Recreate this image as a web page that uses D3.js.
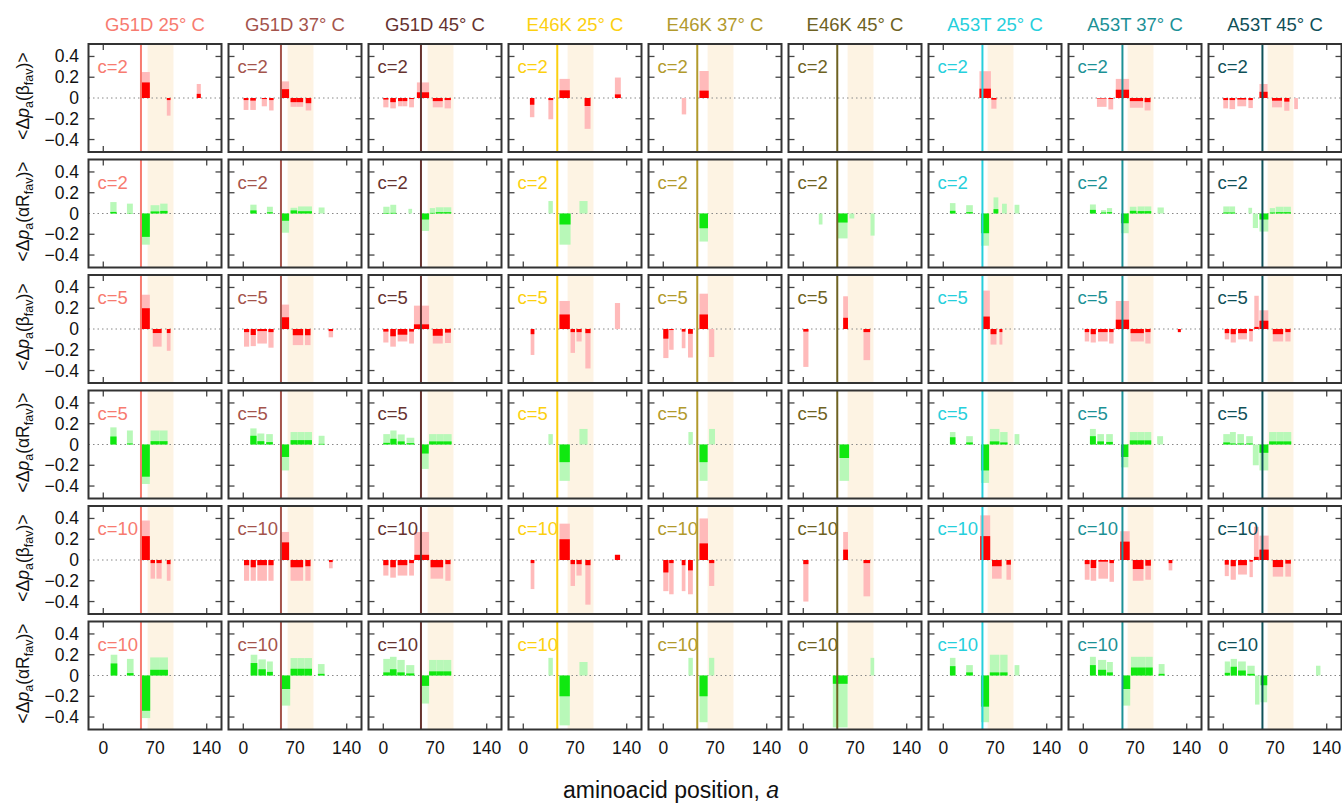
<!DOCTYPE html>
<html>
<head>
<meta charset="utf-8">
<script src="https://cdn.jsdelivr.net/npm/d3@7"></script>
<style>
  body { margin: 0; background: #fff; }
  svg text { font-family: "Liberation Sans", Arial, Helvetica, sans-serif; }
</style>
</head>
<body>
<svg id="chart" width="1342" height="803"></svg>
<script>
// column headers
const mutations = ["G51D", "G51D", "G51D", "E46K", "E46K", "E46K", "A53T", "A53T", "A53T"];
const temps = [25, 37, 45, 25, 37, 45, 25, 37, 45];
const mutPos = [51, 51, 51, 46, 46, 46, 53, 53, 53];
const colColors = ["#f77b70", "#a4544c", "#663330", "#fcd010", "#b29a2c", "#6e6222", "#26cfdc", "#1c9196", "#0f5058"];

// rows
const rowC = [2, 2, 5, 5, 10, 10];
const rowKind = ["β", "αR", "β", "αR", "β", "αR"];

const xTicks = [0, 70, 140];
const yTicks = [0.4, 0.2, 0, -0.2, -0.4];
const nacRegion = [60, 95];

// bars per panel: [start, end, mean (dark), spread (light)]
const betaC2 = [
  [[51,63,0.15,0.25],[86,91,-0.02,-0.17],[126.5,132,0.04,0.135]],
  [[0.5,7,-0.02,-0.115],[9.5,17,-0.025,-0.115],[25,32,-0.01,-0.08],[35,41,-0.02,-0.12],[51,62,0.085,0.16],[64,72.5,-0.04,-0.085],[72.5,81,-0.04,-0.085],[84.5,92,-0.05,-0.12]],
  [[0,7,-0.015,-0.09],[9.5,17,-0.04,-0.10],[20,26,-0.03,-0.08],[26,32.5,-0.03,-0.08],[35,41.5,-0.01,-0.09],[45.5,62,0.055,0.15],[67,80.5,-0.03,-0.09],[83,91.5,-0.02,-0.10]],
  [[9,15,-0.065,-0.185],[34,40.5,-0.02,-0.205],[49,63,0.074,0.184],[83,91,-0.077,-0.297],[124,132,0.035,0.197]],
  [[25,31,0,-0.158],[49,61.5,0.071,0.26]],
  [],
  [[49,64.5,0.09,0.258],[65,72,-0.016,-0.103]],
  [[18.5,31.5,-0.005,-0.085],[34,40.5,-0.01,-0.11],[44,62,0.08,0.184],[63,81,-0.03,-0.094],[83,91,-0.04,-0.12]],
  [[0,6.5,-0.02,-0.10],[8.5,16,-0.02,-0.107],[19,31,-0.015,-0.08],[34,40,-0.02,-0.097],[49,60,0.06,0.135],[66,79.5,-0.026,-0.09],[82.5,89.5,-0.035,-0.123],[96,101,0,-0.107]]
];
const alphaC2 = [
  [[9.5,18,0.015,0.11],[32,40,0.003,0.095],[51,63,-0.225,-0.30],[64,76,0.02,0.08],[77,87,0.025,0.095]],
  [[9.5,18,0.03,0.085],[32,40,0.012,0.065],[51,62,-0.07,-0.185],[64,73,0.03,0.055],[74,83.5,0.022,0.068],[83.5,93,0.022,0.068],[102,110,0,0.058]],
  [[0,8.5,0.005,0.065],[9.5,17.5,0.006,0.084],[34,39,0,0.045],[51,62,-0.058,-0.168],[63,70,0.006,0.052],[71,81.5,0.013,0.06],[81.5,92,0.013,0.06]],
  [[34,40,0,0.12],[49,64,-0.106,-0.30],[76,87,0,0.12]],
  [[49,60.5,-0.142,-0.27]],
  [[21,26,0,-0.106],[46.5,60,-0.087,-0.24],[62.5,69,0,-0.048],[91,96.5,0,-0.213]],
  [[9,16.5,0.026,0.10],[31,40,0.013,0.08],[51,62,-0.19,-0.31],[68,74.5,0.042,0.155],[79.5,86,0,0.094],[96.5,103,0,0.084]],
  [[9,17,0.035,0.087],[24,31,0.01,0.032],[32,39,0.013,0.052],[51,61.5,-0.094,-0.19],[63,72,0.026,0.065],[73.5,83,0.023,0.068],[83,92,0.023,0.068],[100.5,109,0,0.058]],
  [[0,8,0.01,0.068],[8,16,0.01,0.068],[34,39,0,0.055],[40,47,0,-0.14],[49,61,-0.058,-0.174],[63,70,0.01,0.052],[71,81.5,0.013,0.065],[81.5,91.5,0.013,0.065]]
];
const betaC5 = [
  [[51,63,0.20,0.33],[67,79,-0.039,-0.17],[86,91,-0.039,-0.21]],
  [[1,8,-0.03,-0.17],[10,17,-0.058,-0.165],[19,32,-0.02,-0.14],[34,41,-0.03,-0.18],[51,62,0.113,0.235],[67,81,-0.06,-0.155],[83.5,91,-0.06,-0.155],[115.5,121.5,-0.02,-0.08]],
  [[0,7,-0.025,-0.13],[9.5,17,-0.07,-0.17],[19.5,32.5,-0.055,-0.12],[35,41.5,-0.025,-0.14],[41.5,62,0.045,0.225],[67,80.5,-0.065,-0.14],[83.5,91.5,-0.035,-0.135]],
  [[10,15,-0.05,-0.25],[49,63,0.14,0.27],[64,70,-0.03,-0.23],[72,79,-0.03,-0.12],[84,91,-0.04,-0.38],[124,131,0,0.25]],
  [[0,7,-0.093,-0.28],[8,14,-0.01,-0.2],[25,30,-0.025,-0.185],[33.5,40,-0.046,-0.275],[49,60.5,0.14,0.34],[62,69,0,-0.27]],
  [[0,7,-0.025,-0.365],[54,60.5,0.108,0.315],[81.5,90.5,-0.03,-0.30]],
  [[53,63,0.12,0.37],[64,72,-0.05,-0.15],[76,80,-0.03,-0.15]],
  [[2,8,-0.03,-0.12],[10,17,-0.05,-0.13],[20,33,-0.03,-0.12],[35,41,-0.03,-0.14],[44,62,0.09,0.27],[64,82,-0.04,-0.12],[84,91,-0.03,-0.14],[128,132,-0.03,-0.03]],
  [[2,8,-0.04,-0.1],[10,17,-0.05,-0.13],[20,32,-0.04,-0.1],[35,40,-0.02,-0.12],[42,48,0.02,0.32],[49,61,0.08,0.18],[67,81,-0.05,-0.12],[84,91,-0.03,-0.12]]
];
const alphaC5 = [
  [[9.5,18,0.077,0.165],[32,40,0.01,0.135],[51,63,-0.31,-0.38],[64,76,0.032,0.135],[76,87,0.032,0.135]],
  [[9.5,18,0.084,0.155],[19,28.5,0.032,0.106],[31,40,0.023,0.10],[51,62,-0.12,-0.25],[64,73.5,0.042,0.12],[73.5,83,0.042,0.12],[83,93,0.042,0.12],[102,110,0.006,0.084]],
  [[0,9,0.016,0.10],[9.5,18,0.055,0.135],[19.5,29,0.03,0.097],[31.5,42,0.013,0.065],[51,61.5,-0.087,-0.235],[62,72,0.03,0.10],[72,82,0.03,0.10],[82,92.5,0.03,0.10]],
  [[34,40,0,0.1],[49,63,-0.17,-0.35],[76,87,0,0.15]],
  [[34,40,0,0.12],[49,60,-0.17,-0.35],[62,70,0,0.15]],
  [[49,62,-0.13,-0.35]],
  [[9,16.5,0.07,0.12],[31,40,0.02,0.08],[51,62,-0.25,-0.37],[63,76,0.03,0.15],[77,87,0.02,0.12],[96.5,103,0,0.1]],
  [[9,17,0.08,0.15],[19,28,0.03,0.1],[31,40,0.025,0.1],[51,61,-0.12,-0.22],[63,73,0.04,0.12],[73,83,0.04,0.12],[83,92,0.04,0.12],[100,108,0,0.08]],
  [[0,9,0.02,0.1],[9,17,0.01,0.12],[19,28,0.01,0.1],[31,40,0.01,0.08],[40,48,0,-0.2],[49,61,-0.08,-0.25],[62,72,0.03,0.12],[72,82,0.03,0.12],[82,92,0.03,0.12]]
];
const betaC10 = [
  [[51,63,0.23,0.38],[64,70,-0.03,-0.18],[72,79,-0.03,-0.18],[86,91,-0.04,-0.2]],
  [[1,8,-0.05,-0.2],[10,17,-0.07,-0.2],[19,32,-0.05,-0.2],[34,41,-0.05,-0.2],[51,62,0.17,0.27],[64,81,-0.07,-0.2],[84,91,-0.06,-0.2],[116,121,-0.02,-0.08]],
  [[0,7,-0.05,-0.15],[9.5,17,-0.07,-0.17],[19.5,32.5,-0.05,-0.15],[35,41.5,-0.03,-0.15],[42,62,0.05,0.27],[64,81,-0.07,-0.18],[84,91,-0.04,-0.2]],
  [[10,15,-0.03,-0.28],[49,63,0.2,0.35],[64,70,-0.04,-0.25],[72,79,-0.04,-0.15],[84,91,-0.05,-0.43],[124,131,0.05,0.05]],
  [[0,7,-0.12,-0.3],[8,14,-0.03,-0.33],[25,30,-0.05,-0.3],[33.5,40,-0.1,-0.33],[49,60.5,0.16,0.4],[62,69,-0.03,-0.25]],
  [[0,7,-0.04,-0.4],[54,60.5,0.1,0.27],[81.5,90.5,-0.03,-0.35]],
  [[50,63.5,0.23,0.43],[66,79,-0.06,-0.18],[85.5,91.5,-0.045,-0.19]],
  [[2,8.5,-0.04,-0.19],[10,17.5,-0.077,-0.2],[20.5,33.5,-0.016,-0.18],[35.5,41.5,-0.03,-0.21],[50,62.8,0.177,0.277],[67,81.5,-0.087,-0.2],[84,91.5,-0.055,-0.19],[115.5,120.5,-0.03,-0.10]],
  [[2,7.5,-0.045,-0.155],[10,17,-0.06,-0.19],[20,32,-0.05,-0.14],[35.5,40,-0.016,-0.165],[41.5,48,0.03,0.32],[49,61.5,0.10,0.235],[67,81,-0.068,-0.16],[84,91.5,-0.035,-0.16]]
];
const alphaC10 = [
  [[10,19,0.116,0.2],[32,41,0.023,0.16],[52,63.5,-0.34,-0.41],[63.5,75.5,0.055,0.174],[75.5,87.5,0.055,0.174]],
  [[10,19,0.12,0.2],[20.5,30.5,0.06,0.155],[32,40,0.035,0.135],[52,63.5,-0.13,-0.29],[64,73.5,0.065,0.168],[73.5,83,0.065,0.168],[83,93,0.065,0.168],[101,110,0.016,0.11]],
  [[0,9,0.03,0.16],[9,18,0.06,0.18],[19,29,0.03,0.15],[31,42,0.02,0.1],[51,62,-0.1,-0.27],[62,72,0.04,0.15],[72,82,0.04,0.15],[82,92,0.04,0.15]],
  [[34,40,0,0.17],[49,63,-0.2,-0.48],[76,87,0,0.13]],
  [[34,40,0,0.17],[49,60,-0.2,-0.45],[62,69,0,0.17]],
  [[40,60,-0.08,-0.5],[91,96,0,0.17]],
  [[9,16.5,0.09,0.17],[31,40,0.03,0.1],[51,62,-0.3,-0.45],[63,76,0.03,0.2],[77,87,0.03,0.2],[96.5,103,0,0.1]],
  [[9,17,0.1,0.18],[20,31,0.055,0.15],[32,40,0.03,0.13],[53,63.5,-0.13,-0.29],[64.5,74,0.077,0.18],[74,84,0.077,0.18],[84,94,0.077,0.18],[102,110,0.016,0.11]],
  [[2,9,0.026,0.135],[10,18.5,0.084,0.16],[20,30.5,0.048,0.135],[32.5,42.5,0.016,0.094],[43,49,0,-0.28],[50.5,59.5,-0.094,-0.258],[125.5,131.5,0,0.094]]
];
const rowBars = [betaC2, alphaC2, betaC5, alphaC5, betaC10, alphaC10];

const barColors = {
  "β": {light: "#ffbaba", dark: "#ff0000"},
  "αR": {light: "#b8f8b8", dark: "#10e810"}
};

// layout
const left0 = 88.5, colStep = 140, pw = 133;
const top0 = 44, rowStep = 115.5, ph = 108;

const svg = d3.select("#chart");

const x = d3.scaleLinear().domain([-20, 160]).range([0, pw]);
const y = d3.scaleLinear().domain([-0.52, 0.52]).range([ph, 0]);

// column titles
svg.selectAll("text.coltitle")
  .data(mutations)
  .join("text")
  .attr("class", "coltitle")
  .attr("x", (d, i) => left0 + i * colStep + pw / 2)
  .attr("y", 31)
  .attr("text-anchor", "middle")
  .style("font-size", "18.5px")
  .style("fill", (d, i) => colColors[i])
  .text((d, i) => `${d} ${temps[i]}° C`);

rowBars.forEach(function(rowData, r) {
  const kind = rowKind[r];
  const ty = top0 + r * rowStep;

  // y axis label
  const lab = svg.append("text")
    .attr("transform", `translate(29, ${ty + ph / 2 - 2}) rotate(-90)`)
    .attr("text-anchor", "middle")
    .style("font-size", "17.5px")
    .style("fill", "#111");
  lab.append("tspan").text("<Δ");
  lab.append("tspan").style("font-style", "italic").text("p");
  lab.append("tspan").attr("dy", 4).style("font-size", "12.5px").text("a");
  lab.append("tspan").attr("dy", -4).text("(" + kind);
  lab.append("tspan").attr("dy", 4).style("font-size", "12.5px").text("fav");
  lab.append("tspan").attr("dy", -4).text(")>");

  // y tick labels
  svg.selectAll(null)
    .data(yTicks)
    .join("text")
    .attr("x", 79)
    .attr("y", d => ty + y(d) + 6)
    .attr("text-anchor", "end")
    .style("font-size", "17.5px")
    .style("fill", "#111")
    .text(d => d === 0 ? "0" : d3.format(".1f")(d).replace("-", "−"));

  rowData.forEach(function(bars, c) {
    const g = svg.append("g")
      .attr("transform", `translate(${left0 + c * colStep}, ${ty})`);

    // inner ticks
    xTicks.forEach(function(t) {
      g.append("line").attr("x1", x(t)).attr("x2", x(t)).attr("y1", 0).attr("y2", 6)
        .attr("stroke", "#444").attr("stroke-width", 1.3);
      g.append("line").attr("x1", x(t)).attr("x2", x(t)).attr("y1", ph).attr("y2", ph - 6)
        .attr("stroke", "#444").attr("stroke-width", 1.3);
    });
    yTicks.filter(t => t !== 0).forEach(function(t) {
      g.append("line").attr("x1", 0).attr("x2", 6).attr("y1", y(t)).attr("y2", y(t))
        .attr("stroke", "#444").attr("stroke-width", 1.3);
      g.append("line").attr("x1", pw).attr("x2", pw - 6).attr("y1", y(t)).attr("y2", y(t))
        .attr("stroke", "#444").attr("stroke-width", 1.3);
    });

    // NAC shading
    g.append("rect")
      .attr("x", x(nacRegion[0]))
      .attr("width", x(nacRegion[1]) - x(nacRegion[0]))
      .attr("y", 0.5)
      .attr("height", ph - 1)
      .attr("fill", "#fdf3e3");

    // zero line
    g.append("line")
      .attr("x1", x(-20)).attr("x2", x(160))
      .attr("y1", y(0)).attr("y2", y(0))
      .attr("stroke", "#888")
      .attr("stroke-width", 1)
      .attr("stroke-dasharray", "1.5,3");

    // light bars
    g.selectAll("rect.light")
      .data(bars)
      .join("rect")
      .attr("class", "light")
      .attr("x", d => x(d[0]))
      .attr("width", d => x(d[1]) - x(d[0]))
      .attr("y", d => Math.min(y(0), y(d[3])))
      .attr("height", d => Math.abs(y(d[3]) - y(0)))
      .attr("fill", barColors[kind].light);

    // dark bars
    g.selectAll("rect.dark")
      .data(bars)
      .join("rect")
      .attr("class", "dark")
      .attr("x", d => x(d[0]))
      .attr("width", d => x(d[1]) - x(d[0]))
      .attr("y", d => Math.min(y(0), y(d[2])))
      .attr("height", d => Math.abs(y(d[2]) - y(0)))
      .attr("fill", barColors[kind].dark);

    // mutation position
    g.append("line")
      .attr("x1", x(mutPos[c])).attr("x2", x(mutPos[c]))
      .attr("y1", 0).attr("y2", ph)
      .attr("stroke", colColors[c])
      .attr("stroke-width", 2);

    // frame
    g.append("rect")
      .attr("width", pw).attr("height", ph)
      .attr("fill", "none")
      .attr("stroke", "#333")
      .attr("stroke-width", 2);

    // c label
    g.append("text")
      .attr("x", 9)
      .attr("y", 29)
      .style("font-size", "18.5px")
      .style("fill", colColors[c])
      .text("c=" + rowC[r]);

    // x tick labels on bottom row
    if (r === rowBars.length - 1) {
      g.selectAll("text.xt")
        .data(xTicks)
        .join("text")
        .attr("class", "xt")
        .attr("x", d => x(d))
        .attr("y", ph + 24)
        .attr("text-anchor", "middle")
        .style("font-size", "17.5px")
        .style("fill", "#111")
        .text(d => d);
    }
  });
});

// x axis title
const xt = svg.append("text")
  .attr("x", 671)
  .attr("y", 798)
  .attr("text-anchor", "middle")
  .style("font-size", "23px")
  .style("fill", "#111");
xt.append("tspan").text("aminoacid position, ");
xt.append("tspan").style("font-style", "italic").text("a");
</script>
</body>
</html>
